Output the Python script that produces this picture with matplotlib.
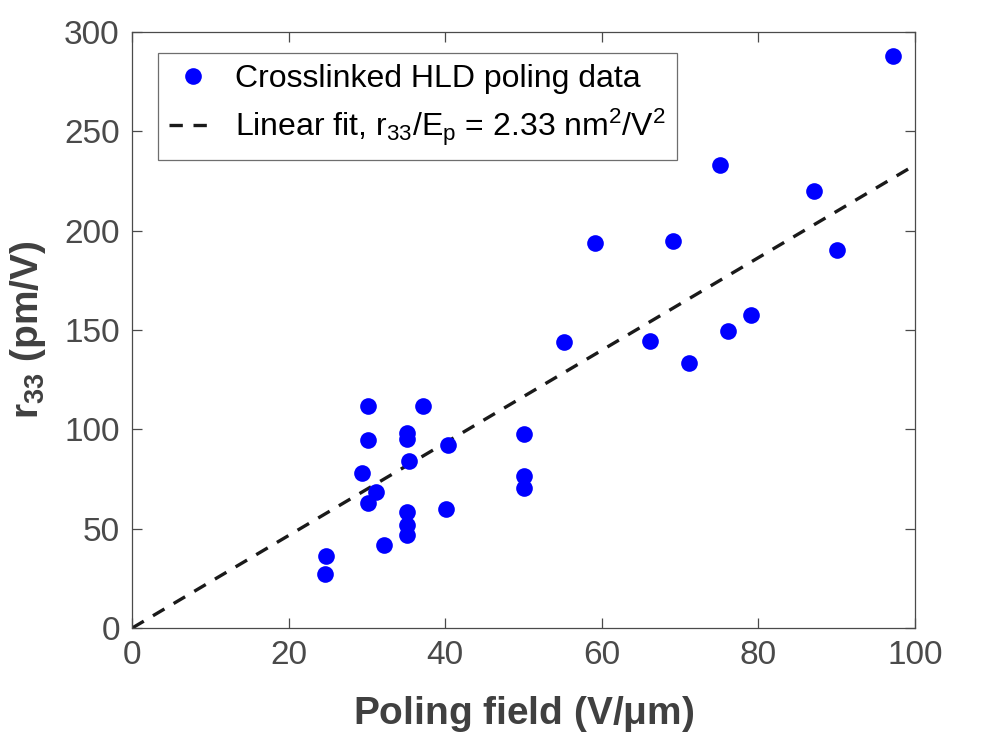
import matplotlib
matplotlib.use("Agg")
import matplotlib.pyplot as plt
import numpy as np

plt.rcParams['font.family'] = ['Liberation Sans', 'DejaVu Sans']
plt.rcParams['mathtext.fontset'] = 'custom'
plt.rcParams['mathtext.rm'] = 'Liberation Sans'
plt.rcParams['mathtext.it'] = 'Liberation Sans:italic'
plt.rcParams['mathtext.bf'] = 'Liberation Sans:bold'

# Data
field = [30.1, 37.1, 30.1, 35.1, 35.1, 40.4, 35.4, 50.1, 29.3, 31.2, 30.1,
         35.1, 35.1, 35.1, 40.1, 50.1, 50.1, 32.2, 24.8, 24.6,
         75.1, 87.1, 59.1, 69.1, 90.1, 55.2, 66.1, 79.1, 76.1, 71.1, 97.2]
r33 = [111.8, 111.8, 94.4, 98.3, 95.3, 92.1, 84.0, 97.8, 77.8, 68.5, 63.0,
       58.4, 52.0, 47.0, 59.9, 76.4, 70.6, 41.6, 36.4, 27.1,
       233.0, 219.9, 193.9, 194.8, 190.4, 144.1, 144.3, 157.6, 149.3, 133.3, 288.0]
slope = 2.33
fit_x = [0, 100]

xticks = [0, 20, 40, 60, 80, 100]
yticks = [0, 50, 100, 150, 200, 250, 300]

fig = plt.figure(figsize=(10, 7.38), dpi=100)
ax = fig.add_axes([0.1323, 0.1491, 0.7825, 0.8075])

ax.plot(field, r33, 'o', color='#0000ff', markersize=12, markeredgewidth=0,
        label='Crosslinked HLD poling data', zorder=3)
ax.plot(fit_x, [slope * v for v in fit_x], '--', color='#1a1a1a', linewidth=2.4,
        dashes=(4, 3.2),
        label=r'Linear fit, r$_{33}$/E$_\mathrm{p}$ = 2.33 nm$^2$/V$^2$', zorder=2)

ax.set_xlim(0, 100)
ax.set_ylim(0, 300)
ax.set_xticks(xticks)
ax.set_yticks(yticks)

gray = '#4a4a4a'
for s in ax.spines.values():
    s.set_color('#4a4a4a')
    s.set_linewidth(0.9)
ax.tick_params(direction='in', length=7, width=0.9, colors='#4a4a4a',
               labelcolor=gray, labelsize=24, top=True, right=True, pad=9)

ax.set_xlabel(r'Poling field (V/$\mathbf{\mu}$m)', fontsize=28, fontweight='bold',
              color='#404040', labelpad=16)
ax.set_ylabel(r'r$_\mathbf{33}$ (pm/V)', fontsize=28, fontweight='bold',
              color='#404040', labelpad=12)

leg = ax.legend(loc='upper left', bbox_to_anchor=(0.033, 0.965), fontsize=23,
                frameon=True, fancybox=False, edgecolor='#4a4a4a',
                handlelength=1.5, borderpad=0.35, labelspacing=0.4,
                handletextpad=0.55, borderaxespad=0)
leg.get_frame().set_linewidth(0.9)
for t in leg.get_texts():
    t.set_color('#000000')

fig.savefig('out.png', dpi=100, facecolor='white')
